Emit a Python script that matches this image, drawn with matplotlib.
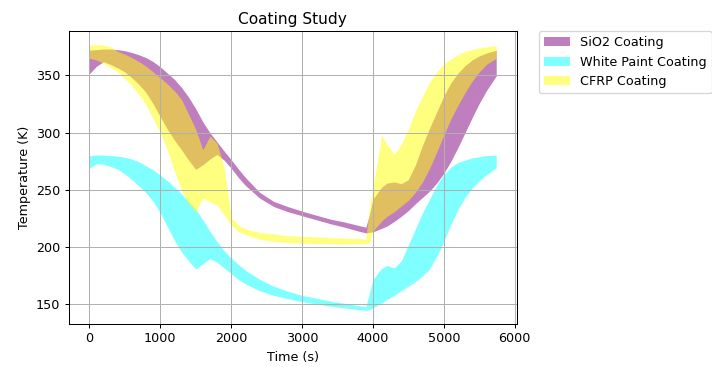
import matplotlib
matplotlib.use("Agg")
import matplotlib.pyplot as plt

# temps (s)
t = [0, 100, 200, 300, 400, 500, 600, 700, 800, 900, 1000, 1100, 1200, 1300, 1400,
     1500, 1600, 1700, 1800, 1900, 2000, 2100, 2200, 2400, 2600, 2800, 3000, 3200,
     3400, 3600, 3800, 3900, 3950, 4000, 4125, 4200, 4300, 4400, 4500, 4600, 4700,
     4800, 4900, 5000, 5100, 5200, 5300, 5400, 5500, 5600, 5740]

# SiO2 coating : bornes haute et basse (K)
sio2_hi = [372, 372.5, 373, 373, 372.5, 371.5, 370, 368, 365.5, 362, 357.5, 352,
           346.5, 339.5, 331, 321, 309.5, 300, 292, 284, 276.5, 268.5, 261, 248, 240,
           235.5, 231.5, 228, 224.5, 222, 219, 217.5, 228, 242, 252.5, 256, 257, 255.5,
           259, 272, 289, 304, 318, 332, 343.5, 352, 358.5, 363.5, 367, 369.5, 372]
sio2_lo = [351.5, 358, 362, 359.5, 356.5, 353, 348, 342, 335, 325, 314, 303, 293.5,
           285, 276, 268, 272, 277, 281, 276, 269, 261, 254, 243, 235.5, 231, 227.5,
           224, 220.5, 217.5, 214, 212.5, 213, 213.5, 216.5, 218.5, 222.5, 227, 232,
           238, 243.5, 249, 256, 264.5, 275, 287, 300, 313, 325.5, 336.5, 349.5]

# White paint coating
wp_hi = [280, 280.5, 280.5, 280, 279.5, 278.5, 277, 274.5, 271, 267.5, 263, 258, 252.5,
         246.5, 240, 233, 224, 214, 205, 197, 190.5, 185, 180, 172, 166, 161.5, 158,
         155.5, 153, 151, 149, 148, 160, 172, 181.5, 184, 182, 188, 202, 216, 230, 242,
         254, 263.5, 270, 274, 276, 278, 279, 280, 280.5]
wp_lo = [269, 273, 272.5, 270.5, 268, 264, 259, 253.5, 247.5, 240, 230, 218, 206, 196,
         188, 181, 185.5, 190, 187, 182, 177, 172, 168, 162, 158, 155, 152.5, 150.5,
         148.5, 147, 145.5, 145, 145.5, 147, 151.5, 154.5, 158, 162, 166, 170, 175, 181,
         192, 205, 220, 233, 243.5, 251.5, 258, 263, 269.5]

# CFRP coating
cfrp_hi = [376.5, 377, 376.5, 375, 371, 368.5, 365.5, 362, 358, 353, 348, 342.5,
           336.5, 329, 316, 303, 285, 297, 291, 270, 226, 219.5, 216, 213, 211.5, 210,
           209.5, 209, 208.5, 208, 207.5, 207, 235, 252, 298, 289.5, 281, 290, 303, 319,
           332, 344, 353, 360, 364.5, 368, 371, 372.5, 374, 375, 376]
cfrp_lo = [365, 363.5, 360.5, 357, 353, 347, 341, 333, 324, 312, 300, 285, 266, 250,
           238, 231, 243, 239.5, 237, 228.5, 219, 214, 211, 207, 205, 204, 203.5, 203.2,
           203, 203, 203, 203, 204, 214, 223, 227, 231, 236, 241, 248, 257, 269, 283,
           298, 312, 324, 335, 345, 353, 359.5, 365]

dpi = 92
fig = plt.figure(figsize=(712./dpi, 367./dpi), dpi=dpi)
ax = fig.add_axes([0.097, 0.1185, 0.6285, 0.7965])

ax.fill_between(t, sio2_lo, sio2_hi, color='purple', alpha=0.5, linewidth=0, label='SiO2 Coating')
ax.fill_between(t, wp_lo, wp_hi, color='cyan', alpha=0.5, linewidth=0, label='White Paint Coating')
ax.fill_between(t, cfrp_lo, cfrp_hi, color='yellow', alpha=0.5, linewidth=0, label='CFRP Coating')

ax.set_title("Coating Study")
ax.set_xlabel('Time (s)')
ax.set_ylabel('Temperature (K)')
ax.grid(True)
ax.legend(bbox_to_anchor=(1.05, 1), loc='upper left', borderaxespad=0.)

fig.savefig("out.png", dpi=dpi)
